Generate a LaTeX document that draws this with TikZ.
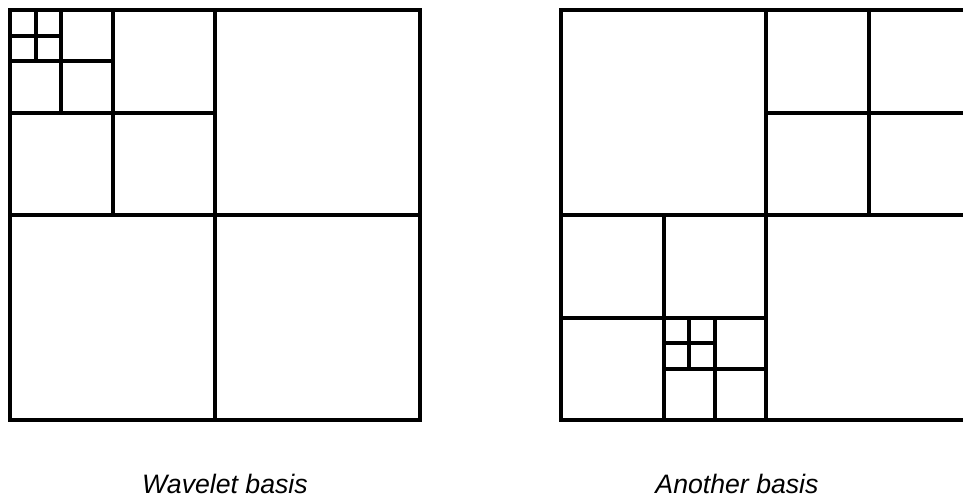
\documentclass[tikz,border=0pt]{standalone}
\usepackage{fontspec}
\setmainfont{Liberation Sans}
\tikzset{
  grid line/.style={line width=3pt, line cap=rect, line join=miter, black},
  caption/.style={font=\fontsize{20pt}{24pt}\selectfont\itshape, anchor=base, inner sep=0pt}
}
\begin{document}
\begin{tikzpicture}[x=0.75pt, y=-0.75pt]
\useasboundingbox (0,0) rectangle (963,497);
\clip (0,0) rectangle (963,497);
% Left: wavelet basis (square 10..420)
\begin{scope}[shift={(10,10)}]
  \draw[grid line] (0,0) rectangle (410,410);
  \draw[grid line] (205,0) -- (205,410);
  \draw[grid line] (0,205) -- (410,205);
  \draw[grid line] (102.5,0) -- (102.5,205);
  \draw[grid line] (0,102.5) -- (205,102.5);
  \draw[grid line] (51.25,0) -- (51.25,102.5);
  \draw[grid line] (0,51.25) -- (102.5,51.25);
  \draw[grid line] (25.625,0) -- (25.625,51.25);
  \draw[grid line] (0,25.625) -- (51.25,25.625);
\end{scope}
% Right: another basis (square 561..971)
\begin{scope}[shift={(561,10)}]
  \draw[grid line] (0,0) rectangle (410,410);
  \draw[grid line] (205,0) -- (205,410);
  \draw[grid line] (0,205) -- (410,205);
  % top-right quadrant
  \draw[grid line] (307.5,0) -- (307.5,205);
  \draw[grid line] (205,102.5) -- (410,102.5);
  % bottom-left quadrant
  \draw[grid line] (102.5,205) -- (102.5,410);
  \draw[grid line] (0,307.5) -- (205,307.5);
  % its bottom-right sub-square
  \draw[grid line] (153.75,307.5) -- (153.75,410);
  \draw[grid line] (102.5,358.75) -- (205,358.75);
  % top-left of that
  \draw[grid line] (128.125,307.5) -- (128.125,358.75);
  \draw[grid line] (102.5,333.125) -- (153.75,333.125);
\end{scope}
\node[caption] (cl) at (225,493) {Wavelet basis};
\node[caption] (cr) at (737,493) {Another basis};
\end{tikzpicture}
\end{document}
